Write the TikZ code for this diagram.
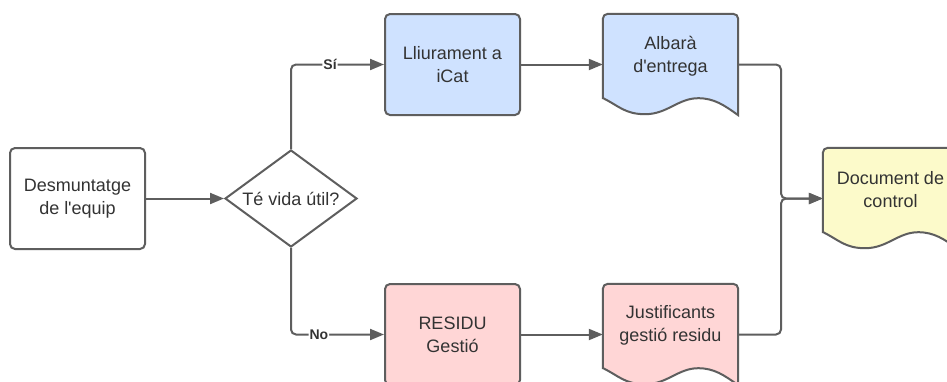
\documentclass[tikz,border=0pt]{standalone}
\usepackage{fontspec}
\setmainfont{Liberation Sans}
\usetikzlibrary{arrows.meta,shapes.geometric,calc}

\definecolor{edge}{RGB}{94,94,94}
\definecolor{ink}{RGB}{51,51,51}
\definecolor{blueFill}{RGB}{207,226,255}
\definecolor{redFill}{RGB}{255,214,214}
\definecolor{yellowFill}{RGB}{252,250,202}

\tikzset{
  base/.style={draw=edge, line width=2pt, text=ink, align=center,
    font=\fontsize{18}{23}\selectfont},
  procbox/.style={base, rectangle, rounded corners=5pt,
    minimum width=135pt, minimum height=101pt, inner sep=0pt},
  decision/.style={base, diamond, minimum width=132pt, minimum height=97pt,
    inner sep=0pt, aspect=1.36},
  docarea/.style={rectangle, minimum width=135pt, minimum height=101pt,
    inner sep=0pt},
  doctext/.style={text=ink, align=center, font=\fontsize{18}{23}\selectfont},
  flow/.style={draw=edge, line width=2pt, rounded corners=5pt,
    -{Triangle[length=14pt,width=11pt]}},
  tag/.style={fill=white, text=ink, inner sep=1pt,
    font=\fontsize{14}{14}\selectfont\bfseries},
}

% outline of a document symbol with a wavy lower edge, around node #1
\newcommand\docoutline[2]{%
  \draw[draw=edge, line width=2pt, fill=#2]
    ([yshift=17pt]#1.south west) [rounded corners=5pt]
    -- (#1.north west) -- (#1.north east) [sharp corners]
    -- (#1.south east)
    .. controls +(-14,-10) and +(16,0) .. ++(-40,-17)
    .. controls +(-20,0) and +(22,0) .. ++(-53,16)
    .. controls +(-20,0) and +(16,8) .. ++(-42,-16)
    -- cycle;}

\begin{document}
\begin{tikzpicture}[x=1pt, y=-1pt]
  \useasboundingbox (0,0) rectangle (947,381);
  \clip (0,0) rectangle (947,381);
  \fill[white] (0,0) rectangle (947,381);

  % steps
  \node[procbox] (dis) at (77.5,198.5) {Desmuntatge\\de l\textquotesingle equip};
  \node[decision, fill=white] (life) at (291,198.5) {Té vida útil?};
  \node[procbox, fill=blueFill] (give) at (452.5,64.5) {Lliurament a\\iCat};
  \node[procbox, fill=redFill] (waste) at (452.5,334.5) {RESIDU\\Gestió};

  % documents
  \node[docarea] (alb) at (670.5,64.5) {};
  \docoutline{alb}{blueFill}
  \node[doctext] (albtxt) at (670.5,56) {Albarà\\d\textquotesingle entrega};

  \node[docarea] (just) at (670.5,334.5) {};
  \docoutline{just}{redFill}
  \node[doctext] (justtxt) at (670.5,325.5) {Justificants\\gestió residu};

  \node[docarea] (ctrl) at (890.5,198.5) {};
  \docoutline{ctrl}{yellowFill}
  \node[doctext] (ctrltxt) at (890.5,189.5) {Document de\\control};

  % connectors
  \coordinate (bus) at (781,198.5);
  \draw[flow] (dis) -- (life);
  \draw[flow] (life.north) |- (give.west)
    node[tag, pos=0.71] {Sí};
  \draw[flow] (life.south) |- (waste.west)
    node[tag, pos=0.65] {No};
  \draw[flow] (give) -- (alb);
  \draw[flow] (waste) -- (just);
  \draw[flow] (alb.east) -| (bus) -- (ctrl.west);
  \draw[flow] (just.east) -| (bus) -- (ctrl.west);
\end{tikzpicture}
\end{document}
